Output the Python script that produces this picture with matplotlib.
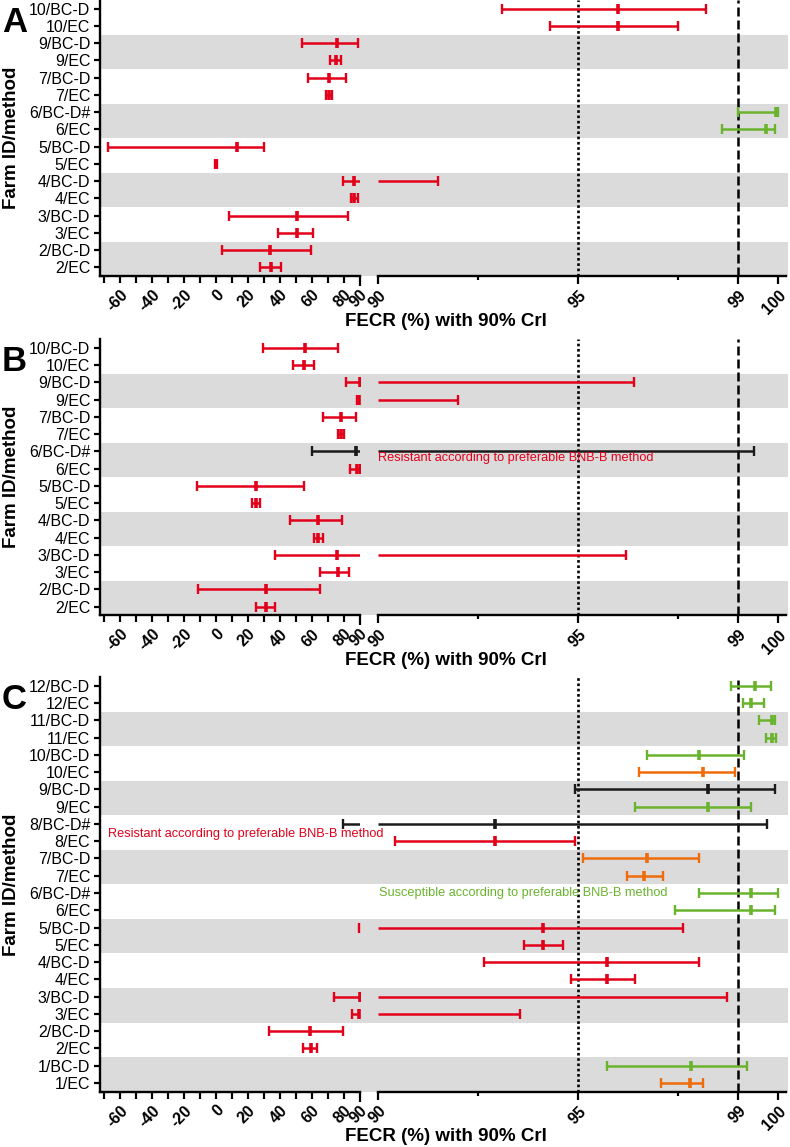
import matplotlib
matplotlib.use("Agg")
import matplotlib.pyplot as plt
import numpy as np

plt.rcParams['font.family'] = ['Liberation Sans', 'DejaVu Sans']

RED = '#e2001a'
GRN = '#6ab42d'
ORG = '#ef6c0c'
BLK = '#1a1a1a'
GRAY = '#dcdbdc'

# ---------------- data ----------------
A_labels = ['10/BC-D', '10/EC', '9/BC-D', '9/EC', '7/BC-D', '7/EC', '6/BC-D#', '6/EC',
            '5/BC-D', '5/EC', '4/BC-D', '4/EC', '3/BC-D', '3/EC', '2/BC-D', '2/EC']
A_lower = [93.08, 94.3, 54.0, 71.3, 57.7, 68.5, 99.0, 98.6, -67.7, -0.6, 79.6, 84.5, 8.1, 38.5, 3.5, 27.5]
A_median = [96.0, 96.0, 75.4, 74.8, 70.6, 70.5, 99.95, 99.7, 12.9, 0.0, 86.5, 86.5, 50.6, 50.6, 33.75, 34.4]
A_upper = [98.2, 97.5, 89.0, 77.9, 81.0, 72.5, 100.0, 99.92, 30.0, 0.6, 91.5, 89.0, 82.3, 60.8, 59.2, 40.6]
A_colors = [RED, RED, RED, RED, RED, RED, GRN, GRN, RED, RED, RED, RED, RED, RED, RED, RED]

B_labels = list(A_labels)
B_lower = [29.2, 48.3, 81.25, 88.3, 67.0, 76.0, 60.2, 84.0, -11.7, 22.5, 46.25, 61.0, 37.1, 65.0, -11.0, 25.0]
B_median = [55.6, 55.2, 89.7, 89.5, 78.0, 78.0, 87.5, 88.0, 24.8, 25.0, 64.0, 64.0, 75.4, 76.0, 31.0, 31.0]
B_upper = [76.5, 61.5, 96.4, 92.0, 87.5, 80.0, 99.4, 89.8, 55.2, 27.5, 79.0, 67.0, 96.2, 83.1, 65.0, 36.9]
B_colors = [RED, RED, RED, RED, RED, RED, BLK, RED, RED, RED, RED, RED, RED, RED, RED, RED]

C_labels = ['12/BC-D', '12/EC', '11/BC-D', '11/EC', '10/BC-D', '10/EC', '9/BC-D', '9/EC',
            '8/BC-D#', '8/EC', '7/BC-D', '7/EC', '6/BC-D#', '6/EC', '5/BC-D', '5/EC',
            '4/BC-D', '4/EC', '3/BC-D', '3/EC', '2/BC-D', '2/EC', '1/BC-D', '1/EC']
C_lower = [98.82, 99.11, 99.52, 99.70, 96.71, 96.52, 94.92, 96.42, 79.2, 90.42, 95.11, 96.21,
           98.02, 97.42, 89.5, 93.63, 92.63, 94.82, 74.0, 85.0, 33.3, 54.6, 95.71, 97.06]
C_median = [99.42, 99.32, 99.83, 99.85, 98.02, 98.11, 98.23, 98.23, 92.92, 92.92, 96.71, 96.63,
            99.32, 99.32, 94.11, 94.11, 95.71, 95.71, 89.8, 89.6, 58.75, 59.2, 97.82, 97.79]
C_upper = [99.82, 99.63, 99.92, 99.94, 99.13, 98.92, 99.92, 99.31, 99.71, 94.92, 98.02, 97.11,
           100.0, 99.92, 97.61, 94.61, 98.02, 96.42, 98.71, 93.53, 79.2, 62.9, 99.21, 98.12]
C_colors = [GRN, GRN, GRN, GRN, GRN, ORG, BLK, GRN, BLK, RED, ORG, ORG,
            GRN, GRN, RED, RED, RED, RED, RED, RED, RED, RED, GRN, ORG]

left_ticks = list(range(-70, 91, 10))
left_ticklabels = ['', '-60', '', '-40', '', '-20', '', '0', '', '20', '', '40', '', '60', '', '80', '90']
right_ticks = [90, 95, 99, 100]
right_minor = [92.5, 97.5]

# ---------------- layout ----------------
W, H = 790, 1147
fig = plt.figure(figsize=(W / 100, H / 100), dpi=100)


def frac(x0, ytop, x1, ybot):
    return [x0 / W, 1 - ybot / H, (x1 - x0) / W, (ybot - ytop) / H]


XL0, XL1 = 100.0, 360.0      # left segment: -72.5 .. 90
XR0, XR1 = 378.3, 786.3      # right segment: 90 .. 100.2
LEFT_LIM = (-72.5, 90)
RIGHT_LIM = (90, 100.2)

panels = [
    ('A', A_labels, A_lower, A_median, A_upper, A_colors, 0.0, 276.0),
    ('B', B_labels, B_lower, B_median, B_upper, B_colors, 339.1, 615.3),
    ('C', C_labels, C_lower, C_median, C_upper, C_colors, 677.1, 1091.6),
]


def draw_interval(ax, lim, y, lo, md, up, col):
    a, b = lim
    s0, s1 = max(lo, a), min(up, b)
    if s0 < s1:
        ax.hlines(y, s0, s1, color=col, lw=1.8, zorder=3)
    for v in (lo, up):
        if a <= v <= b:
            ax.plot([v], [y], marker='|', ms=7.0, mew=1.7, color=col, zorder=3)
    if a <= md <= b:
        ax.plot([md], [y], marker='|', ms=7.2, mew=2.6, color=col, zorder=4)


for (letter, labels, lo, med, up, cols, top, bot) in panels:
    n = len(labels)
    ylim = (n - 0.5, -0.5)
    # background bands
    bg = fig.add_axes(frac(XL0, top, 788, bot), zorder=0)
    bg.set_xlim(0, 1)
    bg.set_ylim(*ylim)
    bg.axis('off')
    for k in range(1, n, 4):
        bg.axhspan(k + 0.5, k + 2.5, color=GRAY, lw=0)

    axL = fig.add_axes(frac(XL0, top, XL1, bot), zorder=2)
    axR = fig.add_axes(frac(XR0, top, XR1, bot), zorder=2)
    for ax, lim in ((axL, LEFT_LIM), (axR, RIGHT_LIM)):
        ax.patch.set_alpha(0)
        ax.set_xlim(*lim)
        ax.set_ylim(*ylim)
        for s in ('top', 'right'):
            ax.spines[s].set_visible(False)
        ax.spines['bottom'].set_linewidth(1.7)
        ax.spines['left'].set_linewidth(1.7)

    axR.spines['left'].set_visible(False)
    axR.set_yticks([])

    axL.set_yticks(range(n))
    axL.set_yticklabels(labels, fontsize=11.5)
    axL.tick_params(axis='y', length=4, width=1.6, pad=3)

    axL.set_xticks(left_ticks)
    axL.set_xticklabels(left_ticklabels, fontsize=11.5, fontweight='bold',
                        rotation=45, ha='right', va='top', rotation_mode='anchor')
    axL.tick_params(axis='x', length=5, width=1.6, pad=3)
    axL.xaxis.get_major_ticks()[-1].tick1line.set_markersize(7.5)

    axR.set_xticks(right_ticks)
    axR.set_xticks(right_minor, minor=True)
    axR.set_xticklabels([str(t) for t in right_ticks], fontsize=11.5, fontweight='bold',
                        rotation=45, ha='right', va='top', rotation_mode='anchor')
    axR.tick_params(axis='x', which='major', length=5.5, width=1.6, pad=3)
    axR.tick_params(axis='x', which='minor', length=3, width=1.6)

    # reference lines
    axR.axvline(95, color='black', lw=1.9, ls=(0, (1, 1.0)), zorder=1)
    axR.axvline(99, color='black', lw=1.8, ls=(0, (3.6, 1.6)), zorder=1)

    for i in range(n):
        draw_interval(axL, LEFT_LIM, i, lo[i], med[i], up[i], cols[i])
        draw_interval(axR, RIGHT_LIM, i, lo[i], med[i], up[i], cols[i])

    # panel letter
    fig.text(2 / W, 1 - (max(top, 0) + 32) / H, letter,
             fontsize=25, fontweight='bold', va='baseline', ha='left')
    # y label
    fig.text(12 / W, 1 - ((top + bot) / 2) / H, 'Farm ID/method', rotation=90,
             fontsize=13.5, fontweight='bold', ha='center', va='center')
    # x label
    fig.text(446 / W, 1 - (bot + 45) / H, 'FECR (%) with 90% CrI',
             fontsize=13.5, fontweight='bold', ha='center', va='center')

    if letter == 'B':
        axR.text(90.0, 6.4, 'Resistant according to preferable BNB-B method',
                 color=RED, fontsize=9.2, ha='left', va='center', zorder=4)
    if letter == 'C':
        axL.text(-67.3, 8.6, 'Resistant according to preferable BNB-B method',
                 color=RED, fontsize=9.2, ha='left', va='center', zorder=4, clip_on=False)
        axR.text(90.02, 12.0, 'Susceptible according to preferable BNB-B method',
                 color=GRN, fontsize=9.2, ha='left', va='center', zorder=4)

fig.savefig('out.png', dpi=100)
